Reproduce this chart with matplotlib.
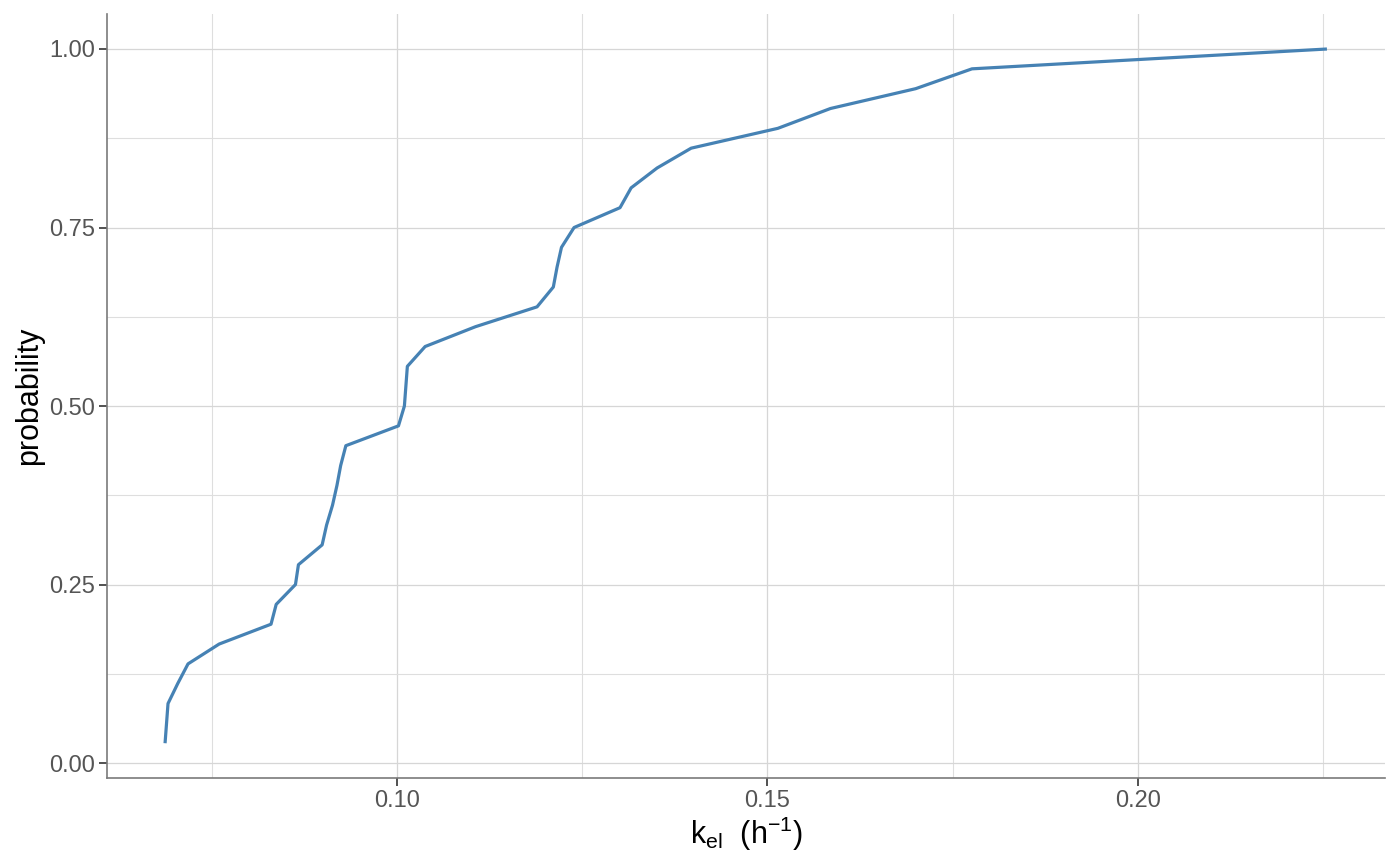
import matplotlib
matplotlib.use('Agg')
import matplotlib.pyplot as plt
from matplotlib.ticker import MultipleLocator

# Elimination rate constants (sorted) and cumulative probability
kel = [0.0687, 0.0689, 0.0691, 0.0704, 0.0718, 0.0760, 0.0830, 0.0837, 0.0863,
       0.0867, 0.0899, 0.0905, 0.0913, 0.0919, 0.0924, 0.0931, 0.1002, 0.1010,
       0.1012, 0.1014, 0.1038, 0.1106, 0.1189, 0.1211, 0.1216, 0.1222, 0.1239,
       0.1301, 0.1316, 0.1351, 0.1397, 0.1514, 0.1585, 0.1700, 0.1776, 0.2255]
prob = [(i + 1) / len(kel) for i in range(len(kel))]

plt.rcParams['font.family'] = ['Liberation Sans', 'DejaVu Sans']
plt.rcParams['mathtext.fontset'] = 'custom'
plt.rcParams['mathtext.rm'] = 'Liberation Sans'
plt.rcParams['mathtext.it'] = 'Liberation Sans'

fig = plt.figure(figsize=(14, 8.66), dpi=100)
ax = fig.add_axes([0.0764, 0.1017, 0.9129, 0.8818])

ax.plot(kel, prob, color='#4682B4', lw=2.3, solid_capstyle='butt')

span = max(kel) - min(kel)
ax.set_xlim(min(kel) - 0.05 * span, max(kel) + 0.05 * span)
yspan = max(prob) - min(prob)
ax.set_ylim(min(prob) - 0.05 * yspan, max(prob) + 0.05 * yspan)

ax.xaxis.set_minor_locator(MultipleLocator(0.025))
ax.yaxis.set_minor_locator(MultipleLocator(0.125))
ax.set_yticks([0, 0.25, 0.5, 0.75, 1.0])
ax.set_yticklabels(['0.00', '0.25', '0.50', '0.75', '1.00'])
ax.set_xticks([0.10, 0.15, 0.20])
ax.set_xticklabels(['0.10', '0.15', '0.20'])

ax.grid(True, which='major', color='#d6d6d6', lw=0.9)
ax.grid(True, which='minor', color='#dedede', lw=0.8)
ax.set_axisbelow(True)

for s in ['top', 'right']:
    ax.spines[s].set_visible(False)
for s in ['left', 'bottom']:
    ax.spines[s].set_color('#7a7a7a')
    ax.spines[s].set_linewidth(1.2)

ax.tick_params(which='major', length=5.5, width=1.2, color='#333333',
               labelcolor='#555555', labelsize=17, pad=3)
ax.tick_params(which='minor', length=0)

ax.set_xlabel(r'$\mathregular{k_{el}\ \ (h^{-1})}$', fontsize=22, color='black', labelpad=2)
ax.set_ylabel('probability', fontsize=22, color='black', labelpad=4)

fig.savefig('out.png', dpi=100)
